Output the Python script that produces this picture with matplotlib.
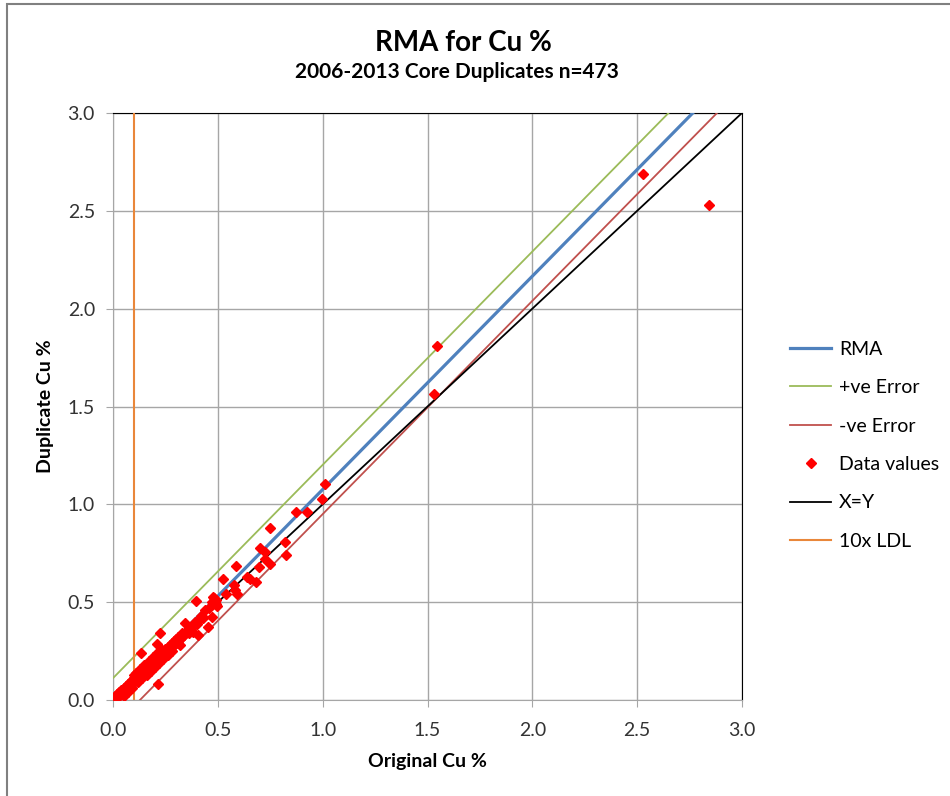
import numpy as np
import matplotlib.pyplot as plt
from matplotlib.patches import Rectangle

plt.rcParams['font.family'] = ['Lato', 'DejaVu Sans']

# duplicate pairs (original, duplicate)
original = [0.00, 0.01, 0.01, 0.02, 0.02, 0.03, 0.03, 0.04, 0.04, 0.05, 0.05, 0.05,
            0.06, 0.06, 0.07, 0.07, 0.07, 0.08, 0.08, 0.09, 0.09, 0.09, 0.10, 0.10,
            0.10, 0.11, 0.11, 0.11, 0.12, 0.12, 0.12, 0.13, 0.13, 0.13, 0.14, 0.14,
            0.14, 0.15, 0.15, 0.15, 0.16, 0.16, 0.16, 0.17, 0.17, 0.17, 0.18, 0.18,
            0.18, 0.19, 0.19, 0.19, 0.20, 0.20, 0.20, 0.21, 0.21, 0.21, 0.22, 0.22,
            0.22, 0.23, 0.23, 0.23, 0.24, 0.24, 0.24, 0.25, 0.25, 0.26, 0.26, 0.26,
            0.27, 0.27, 0.28, 0.28, 0.28, 0.29, 0.29, 0.30, 0.30, 0.31, 0.31, 0.32,
            0.32, 0.33, 0.33, 0.34, 0.35, 0.36, 0.36, 0.37, 0.38, 0.38, 0.39, 0.40,
            0.41, 0.42, 0.43, 0.44, 0.46, 0.47, 0.48, 0.49, 0.49,
            0.223, 0.135, 0.215, 0.397, 0.342, 0.211, 0.405, 0.453, 0.485, 0.423,
            0.470, 0.478, 0.486, 0.494, 0.537, 0.590, 0.582, 0.579, 0.523, 0.682,
            0.653, 0.637, 0.585, 0.698, 0.749, 0.825, 0.725, 0.725, 0.701, 0.820,
            0.749, 0.873, 0.927, 0.998, 1.011, 1.531, 1.545, 2.527, 2.842]
duplicate = [0.00, 0.00, 0.02, 0.01, 0.03, 0.02, 0.04, 0.03, 0.05, 0.04, 0.06, 0.02,
             0.05, 0.07, 0.06, 0.08, 0.04, 0.07, 0.09, 0.08, 0.10, 0.06, 0.09, 0.11,
             0.13, 0.10, 0.12, 0.14, 0.11, 0.13, 0.09, 0.12, 0.14, 0.16, 0.13, 0.15,
             0.11, 0.14, 0.16, 0.18, 0.15, 0.17, 0.13, 0.16, 0.18, 0.20, 0.17, 0.19,
             0.15, 0.18, 0.20, 0.22, 0.19, 0.21, 0.17, 0.20, 0.22, 0.24, 0.21, 0.23,
             0.19, 0.22, 0.24, 0.26, 0.23, 0.25, 0.21, 0.24, 0.26, 0.25, 0.27, 0.23,
             0.26, 0.28, 0.27, 0.29, 0.25, 0.28, 0.30, 0.29, 0.31, 0.30, 0.32, 0.31,
             0.28, 0.32, 0.34, 0.33, 0.35, 0.34, 0.37, 0.36, 0.38, 0.35, 0.40, 0.39,
             0.41, 0.43, 0.42, 0.46, 0.47, 0.50, 0.52, 0.49, 0.51,
             0.341, 0.238, 0.082, 0.508, 0.392, 0.286, 0.332, 0.375, 0.502, 0.429,
             0.426, 0.528, 0.494, 0.480, 0.542, 0.542, 0.562, 0.588, 0.620, 0.605,
             0.617, 0.630, 0.685, 0.678, 0.695, 0.741, 0.719, 0.758, 0.775, 0.806,
             0.877, 0.959, 0.959, 1.027, 1.104, 1.564, 1.809, 2.688, 2.529]

# regression lines: slope and intercepts
rma_slope = 1.09
rma_intercept = -0.014
pos_intercept = 0.112
neg_intercept = -0.140
ldl = 0.1

fig = plt.figure(figsize=(9.5, 7.96), dpi=100)
ax = fig.add_axes([0.119, 0.1206, 0.662, 0.7374])

xs = np.array([0.0, 3.0])
ax.plot(xs, rma_intercept + rma_slope * xs, color='#4F81BD', lw=2.3, label='RMA', zorder=4)
ax.plot(xs, pos_intercept + rma_slope * xs, color='#9BBB59', lw=1.3, label='+ve Error', zorder=4)
ax.plot(xs, neg_intercept + rma_slope * xs, color='#C0504D', lw=1.3, label='-ve Error', zorder=4)
ax.plot(original, duplicate, 'D', color='#FF0000', ms=5.2, mec='#FF0000', ls='none',
        label='Data values', zorder=5)
ax.plot(xs, xs, color='black', lw=1.3, label='X=Y', zorder=4)
ax.plot([ldl, ldl], [0, 3], color='#E9873A', lw=1.5, label='10x LDL', zorder=4)

ax.set_xlim(0, 3)
ax.set_ylim(0, 3)
ticks = np.arange(0, 3.01, 0.5)
ax.set_xticks(ticks)
ax.set_yticks(ticks)
ax.set_xticklabels(['%.1f' % v for v in ticks])
ax.set_yticklabels(['%.1f' % v for v in ticks])
ax.grid(True, color='#A6A6A6', lw=1.0)
ax.set_axisbelow(True)
ax.tick_params(colors='#A6A6A6', labelcolor='#333333', labelsize=14, length=5)
ax.tick_params(axis='x', pad=11)
ax.tick_params(axis='y', pad=8)
ax.spines['left'].set_color('#A6A6A6')
ax.spines['bottom'].set_color('#A6A6A6')
ax.spines['top'].set_color('black')
ax.spines['right'].set_color('black')

ax.set_xlabel('Original Cu %', fontsize=14, fontweight='bold', labelpad=10)
ax.set_ylabel('Duplicate Cu %', fontsize=14, fontweight='bold', labelpad=10)

fig.text(0.488, 0.946, 'RMA for Cu %', ha='center', va='center', fontsize=20, fontweight='bold')
fig.text(0.481, 0.909, '2006-2013 Core Duplicates n=473', ha='center', va='center',
         fontsize=15, fontweight='bold')

leg = ax.legend(loc='center left', bbox_to_anchor=(1.048, 0.434), frameon=False,
                fontsize=14, handlelength=2.15, labelspacing=1.1, handletextpad=0.4)

fig.patches.append(Rectangle((7 / 950, -0.1), 1.1, (796 - 4) / 796 + 0.1,
                             transform=fig.transFigure, fill=False, ec='#808080', lw=1.5))

fig.savefig('out.png', dpi=100)
